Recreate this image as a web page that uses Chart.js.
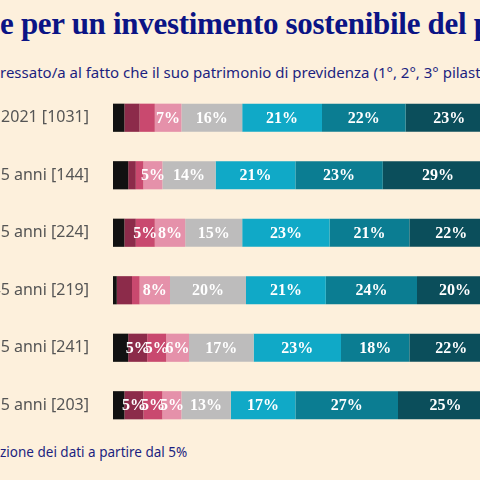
<!DOCTYPE html>
<html><head><meta charset="utf-8">
<script src="https://cdn.jsdelivr.net/npm/chart.js@4"></script>
<style>
html,body{margin:0;padding:0;width:480px;height:480px;overflow:hidden;background:#fdf0dc;position:relative}
.t{position:absolute;white-space:nowrap}
#title{top:6px;font:bold 31px "Liberation Serif",serif;color:#0b1485;letter-spacing:-0.3px}
#sub{top:62px;font:15px "Noto Sans",sans-serif;color:#1c1f80}
#foot{top:443px;font:13.5px "Noto Sans",sans-serif;color:#1c1f80}
#wrap{position:absolute;left:-150px;top:0;width:643px;height:480px}
</style></head><body>
<div id="title" class="t"><span class="p">Interess</span>e per un investimento sostenibile del patrimonio</div>
<div id="sub" class="t"><span class="p">Quanto sarebbe inte</span>ressato/a al fatto che il suo patrimonio di previdenza (1°, 2°, 3° pilastro)</div>
<div id="foot" class="t"><span class="p">Rappresenta</span>zione dei dati a partire dal 5%</div>
<div id="wrap"><canvas id="c"></canvas></div>
<script>
const categories=["Totale 2021 [1031]","18-25 anni [144]","26-35 anni [224]","36-45 anni [219]","46-55 anni [241]","56-65 anni [203]"];
const s1=[3,4,3,1,4,3];
const s2=[4,2,3,4,5,5];
const s3=[4,2,5,2,5,5];
const s4=[7,5,8,8,6,5];
const s5=[16,14,15,20,17,13];
const s6=[21,21,23,21,23,17];
const s7=[22,23,21,24,18,27];
const s8=[23,29,22,20,22,25];
const colors=["#111111","#8c2b4a","#c9496f","#e591aa","#bdbcbc","#10a9c7","#0b7d92","#0b4e5b"];
const series=[s1,s2,s3,s4,s5,s6,s7,s8];
[["title",0],["sub",0],["foot",0]].forEach(([id,x])=>{const e=document.getElementById(id);const w=e.querySelector('.p').getBoundingClientRect().width;e.style.left=(x-w)+'px';});
const labelPlugin={id:'lbl',afterDatasetsDraw(ch){const ctx=ch.ctx;ctx.save();ctx.fillStyle='#fff';ctx.font='bold 16px "Liberation Serif",serif';ctx.textAlign='center';ctx.textBaseline='middle';
ch.data.datasets.forEach((ds,i)=>{ch.getDatasetMeta(i).data.forEach((b,j)=>{const v=ds.data[j];if(v>=5){ctx.fillText(v+'%',(b.x+b.base)/2,b.y+1);}});});ctx.restore();}};
new Chart(document.getElementById('c'),{type:'bar',
data:{labels:categories,datasets:series.map((d,i)=>({data:d,backgroundColor:colors[i],borderWidth:0,barPercentage:0.49,categoryPercentage:1}))},
options:{indexAxis:'y',responsive:true,maintainAspectRatio:false,animation:false,
layout:{padding:{top:89,bottom:46,left:0,right:0}},
plugins:{legend:{display:false},tooltip:{enabled:false}},
scales:{x:{stacked:true,min:0,max:100,display:false},
y:{stacked:true,grid:{display:false},border:{display:false},
ticks:{color:'#555',font:{family:'"Noto Sans",sans-serif',size:16},padding:16},
afterFit(s){s.width=263;}}}},
plugins:[labelPlugin]});
</script></body></html>
